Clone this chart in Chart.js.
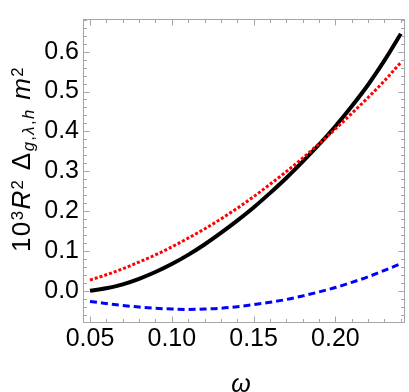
<!DOCTYPE html>
<html>
<head>
<meta charset="utf-8">
<script src="https://cdn.jsdelivr.net/npm/chart.js@4.4.0/dist/chart.umd.min.js"></script>
<style>
html,body{margin:0;padding:0;background:#fff;}
#wrap{position:relative;width:409px;height:392px;overflow:hidden;background:#fff;}
#c{position:absolute;left:0;top:0;}
.ytitle{position:absolute;left:21px;top:159px;width:0;height:0;}
.ytitle span.t{position:absolute;left:0;top:0;transform:translate(-50%,-50%) rotate(-90deg);white-space:nowrap;font-family:"Liberation Sans",Arial,sans-serif;font-size:26px;line-height:1;color:#000;}
.ytitle sup,.ytitle sub{font-size:0.64em;line-height:0;}
.ytitle sup{vertical-align:0.42em;}
.ytitle sub{vertical-align:-0.25em;}
.xtitle{position:absolute;left:241px;top:371px;transform:translateX(-50%);font-family:"Liberation Sans",Arial,sans-serif;font-size:25px;line-height:1;font-style:italic;color:#000;}
</style>
</head>
<body>
<div id="wrap">
<canvas id="c" width="409" height="392"></canvas>
<div class="ytitle"><span class="t" id="yt">10<sup>3</sup><i>R</i><sup>2</sup> Δ<sub><i>g</i>,<i>λ</i>,<i>h</i></sub> <i>m</i><sup>2</sup></span></div>
<div class="xtitle">ω</div>
</div>
<script>
// ---- data ----
const omega = [0.05,0.06,0.07,0.08,0.09,0.10,0.11,0.12,0.13,0.14,0.15,0.16,0.17,0.18,0.19,0.20,0.21,0.22,0.23,0.24];
const blackSolid = [0.000,0.006,0.016,0.030,0.047,0.067,0.090,0.116,0.145,0.176,0.209,0.245,0.283,0.324,0.367,0.413,0.463,0.517,0.578,0.645];
const redDotted  = [0.027,0.040,0.055,0.072,0.090,0.110,0.132,0.155,0.180,0.207,0.236,0.267,0.299,0.333,0.369,0.406,0.445,0.485,0.527,0.573];
const blueDashed = [-0.027,-0.032,-0.037,-0.041,-0.044,-0.046,-0.047,-0.046,-0.044,-0.040,-0.035,-0.029,-0.022,-0.013,-0.003,0.008,0.021,0.035,0.051,0.068];

const xTickValues = [0.05,0.10,0.15,0.20];
const xMinorTicks = [0.06,0.07,0.08,0.09,0.11,0.12,0.13,0.14,0.16,0.17,0.18,0.19,0.21,0.22,0.23,0.24];
const yTickValues = [0.0,0.1,0.2,0.3,0.4,0.5,0.6];
const yMinorTicks = [-0.06,-0.04,-0.02,0.02,0.04,0.06,0.08,0.12,0.14,0.16,0.18,0.22,0.24,0.26,0.28,0.32,0.34,0.36,0.38,0.42,0.44,0.46,0.48,0.52,0.54,0.56,0.58,0.62,0.64,0.66,0.68];

const xRange = [0.04572, 0.24224];
const yRange = [-0.0810, 0.682];

// fit the rotated y title to the reference length (about 188 px)
(function(){
  const yt = document.getElementById('yt');
  const w = yt.offsetWidth;
  const target = 186;
  if (w > 0 && w < target) {
    yt.style.letterSpacing = ((target - w) / 15).toFixed(2) + 'px';
  } else if (w > target) {
    yt.style.fontSize = (26 * target / w).toFixed(2) + 'px';
  }
})();

function pts(ys){ return omega.map((x,i)=>({x:x,y:ys[i]})); }

const frameTicks = {
  id:'frameTicks',
  afterDatasetsDraw(chart){
    const ctx = chart.ctx, a = chart.chartArea, xs = chart.scales.x, ys = chart.scales.y;
    ctx.save();
    ctx.strokeStyle = '#a6a6a6';
    ctx.lineWidth = 1;
    function seg(x1,y1,x2,y2){ ctx.beginPath(); ctx.moveTo(x1,y1); ctx.lineTo(x2,y2); ctx.stroke(); }
    const L = Math.round(a.left)+0.5, R = Math.round(a.right)-0.5, T = Math.round(a.top)+0.5, B = Math.round(a.bottom)-0.5;
    ctx.strokeRect(L, T, R-L, B-T);
    const maj = 6, mnr = 3.5;
    xTickValues.forEach(v=>{ const p = Math.round(xs.getPixelForValue(v))+0.5; seg(p,B,p,B-maj); seg(p,T,p,T+maj); });
    xMinorTicks.forEach(v=>{ const p = Math.round(xs.getPixelForValue(v))+0.5; seg(p,B,p,B-mnr); seg(p,T,p,T+mnr); });
    yTickValues.forEach(v=>{ const p = Math.round(ys.getPixelForValue(v))+0.5; seg(L,p,L+maj,p); seg(R,p,R-maj,p); });
    yMinorTicks.forEach(v=>{ const p = Math.round(ys.getPixelForValue(v))+0.5; seg(L,p,L+mnr,p); seg(R,p,R-mnr,p); });
    ctx.restore();
  }
};

Chart.defaults.font.family = "'Liberation Sans', Arial, sans-serif";
Chart.defaults.font.size = 25;
Chart.defaults.color = '#000';

new Chart(document.getElementById('c'), {
  type:'line',
  data:{
    datasets:[
      {data:pts(redDotted), borderColor:'#ff0000', borderWidth:3, borderDash:[3,2], pointRadius:0, fill:false, cubicInterpolationMode:'monotone'},
      {data:pts(blueDashed), borderColor:'#0000ff', borderWidth:3, borderDash:[7,4], pointRadius:0, fill:false, cubicInterpolationMode:'monotone'},
      {data:pts(blackSolid), borderColor:'#000000', borderWidth:4, pointRadius:0, fill:false, cubicInterpolationMode:'monotone'}
    ]
  },
  options:{
    responsive:false,
    animation:false,
    layout:{padding:{left:0,right:4.5,top:0,bottom:0}},
    plugins:{legend:{display:false}, tooltip:{enabled:false}},
    scales:{
      x:{
        type:'linear', min:xRange[0], max:xRange[1],
        grid:{display:false, drawTicks:false}, border:{display:false},
        afterBuildTicks(s){ s.ticks = xTickValues.map(v=>({value:v})); },
        afterFit(s){ s.height = 69; },
        ticks:{padding:1, maxRotation:0, autoSkip:false, callback:(v)=>Number(v).toFixed(2)}
      },
      y:{
        type:'linear', min:yRange[0], max:yRange[1],
        grid:{display:false, drawTicks:false}, border:{display:false},
        afterBuildTicks(s){ s.ticks = yTickValues.map(v=>({value:v})); },
        afterFit(s){ s.width = 83; },
        ticks:{padding:4, autoSkip:false, callback:(v)=>Number(v).toFixed(1)}
      }
    }
  },
  plugins:[frameTicks]
});
</script>
</body>
</html>
